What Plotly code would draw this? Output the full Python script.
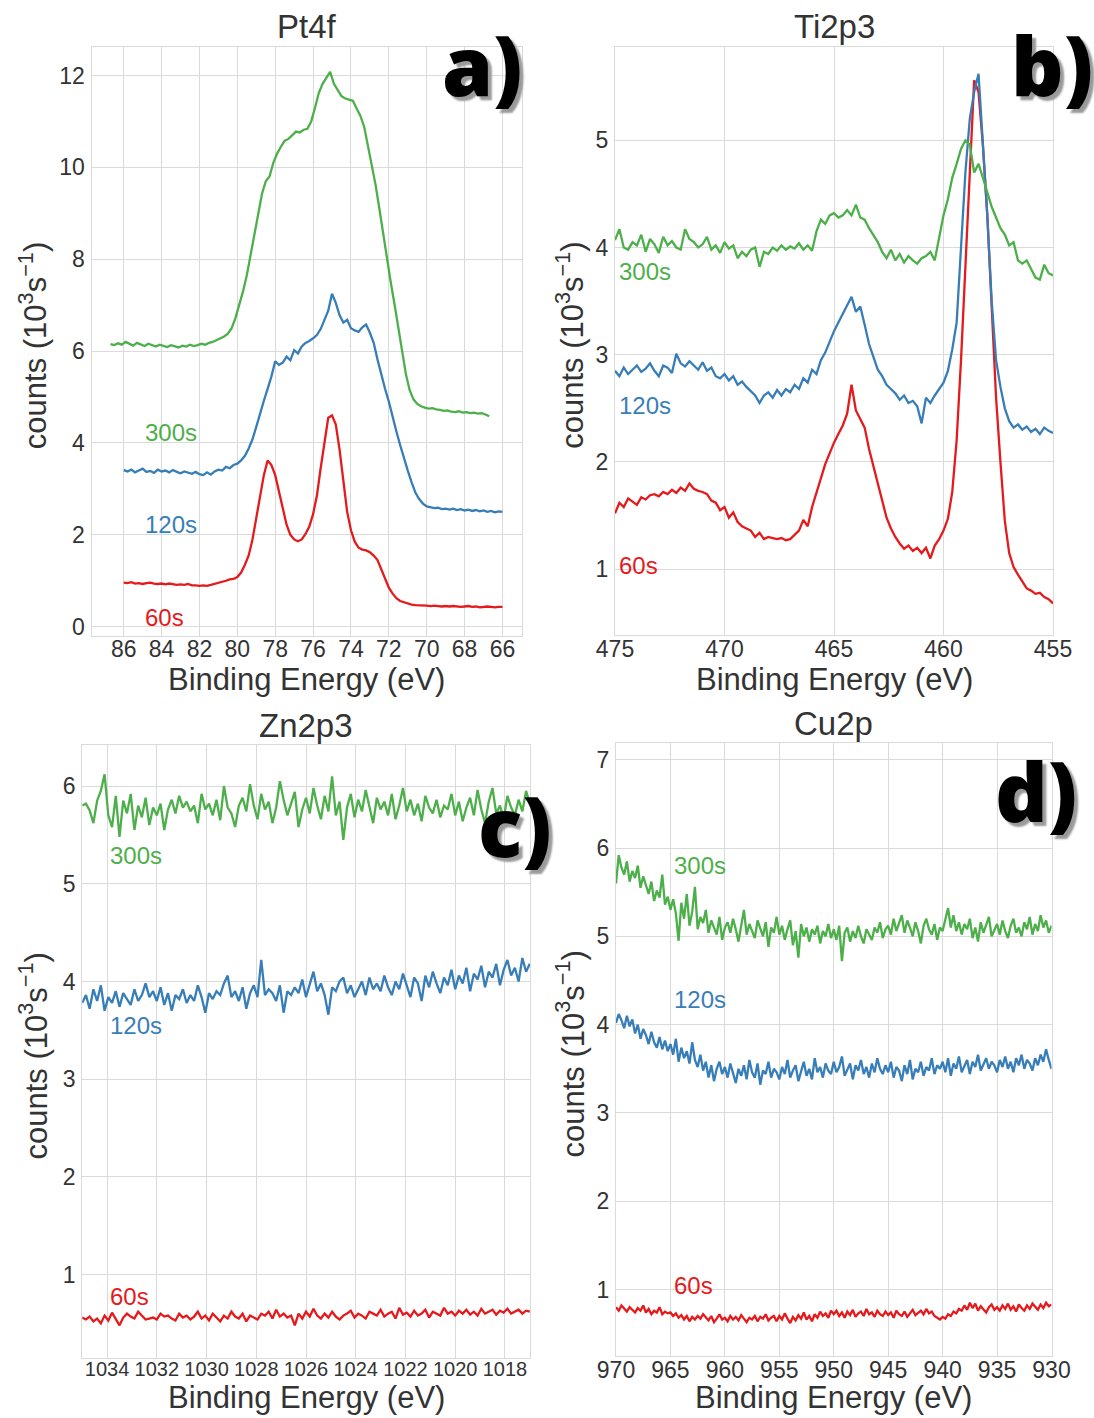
import numpy as np
import plotly.graph_objects as go

W, H = 1094, 1418
GREEN, BLUE, RED = "#4daf4a", "#377eb8", "#e41a1c"
FONT = "Liberation Sans, Arial, sans-serif"
TXT = "#333333"
GRID = "#dadada"

# ---------------- a) Pt4f ----------------
PT_E_60_120 = (86.0, 66.0)
PT_E_300 = (86.7, 66.7)
PT_60 = [0.96, 0.95, 0.97, 0.94, 0.95, 0.93, 0.95, 0.96, 0.94, 0.93, 0.94, 0.92, 0.94, 0.93, 0.91, 0.92, 0.91, 0.93, 0.90, 0.90, 0.89,
         0.90, 0.89, 0.91, 0.93, 0.95, 0.97, 1.00, 1.03, 1.04, 1.08,
         1.18, 1.35, 1.55, 1.90, 2.35, 2.85, 3.30, 3.62, 3.52, 3.30,
         2.95, 2.55, 2.22, 2.00, 1.90, 1.86, 1.90, 2.02, 2.18, 2.45,
         2.85, 3.45, 4.05, 4.55, 4.60, 4.40, 3.85, 3.10, 2.50, 2.10,
         1.85, 1.72, 1.68, 1.66, 1.62, 1.55, 1.45, 1.25, 1.05, 0.85,
         0.72, 0.62, 0.56, 0.53, 0.50, 0.48, 0.47, 0.47, 0.46, 0.46,
         0.45, 0.46, 0.45, 0.44, 0.45, 0.44, 0.45, 0.44, 0.43, 0.44, 0.45, 0.43, 0.44, 0.42, 0.43, 0.44, 0.43, 0.42, 0.43, 0.43]
PT_120 = [3.41, 3.38, 3.42, 3.36, 3.40, 3.44, 3.37, 3.39, 3.35, 3.42, 3.38, 3.40, 3.36, 3.41, 3.37, 3.34, 3.38, 3.35, 3.33, 3.37, 3.32,
          3.30, 3.36, 3.31, 3.38, 3.42, 3.40, 3.48, 3.45, 3.52, 3.55,
          3.62, 3.72, 3.88, 4.08, 4.35, 4.65, 4.92, 5.18, 5.45, 5.78,
          5.70, 5.75, 5.88, 5.80, 6.02, 5.95, 6.10, 6.18, 6.22, 6.28,
          6.35, 6.48, 6.70, 6.88, 7.25, 7.05, 6.78, 6.62, 6.68, 6.50,
          6.45, 6.42, 6.52, 6.58, 6.40, 6.18, 5.82, 5.48, 5.18, 4.90,
          4.55, 4.25, 3.95, 3.65, 3.40, 3.15, 2.92, 2.78, 2.68, 2.62,
          2.60, 2.58, 2.59, 2.56, 2.57, 2.55, 2.57, 2.54, 2.56, 2.53, 2.55, 2.52, 2.54, 2.51, 2.53, 2.50, 2.52, 2.49, 2.51, 2.50]
PT_300 = [6.15, 6.13, 6.17, 6.14, 6.20, 6.16, 6.12, 6.18, 6.14, 6.11, 6.16, 6.13, 6.10, 6.14, 6.12, 6.09, 6.13, 6.11, 6.08, 6.12,
          6.10, 6.14, 6.11, 6.13, 6.16, 6.14, 6.18, 6.20, 6.24, 6.28,
          6.32, 6.38, 6.50, 6.72, 7.00, 7.30, 7.65, 8.10, 8.55, 8.98,
          9.42, 9.70, 9.80, 10.10, 10.30, 10.45, 10.58, 10.62, 10.70, 10.78,
          10.76, 10.82, 10.84, 11.00, 11.30, 11.62, 11.82, 11.95, 12.08, 11.82,
          11.68, 11.55, 11.50, 11.48, 11.45, 11.28, 11.12, 10.88, 10.48, 10.05,
          9.62, 9.10, 8.55, 8.02, 7.50, 7.02, 6.52, 6.00, 5.50, 5.15,
          4.95, 4.85, 4.80, 4.77, 4.75, 4.76, 4.73, 4.72, 4.70, 4.71, 4.68, 4.67, 4.69, 4.66, 4.67, 4.65, 4.66, 4.64, 4.65, 4.62, 4.58]
PT_XTICKS = [86, 84, 82, 80, 78, 76, 74, 72, 70, 68, 66]
PT_YTICKS = [0, 2, 4, 6, 8, 10, 12]

# ---------------- b) Ti2p3 ----------------
TI_E = (475.0, 455.0)
TI_60 = [1.52, 1.62, 1.58, 1.66, 1.63, 1.60, 1.67, 1.65, 1.69, 1.70,
         1.68, 1.72, 1.70, 1.74, 1.71, 1.76, 1.73, 1.80, 1.75, 1.73,
         1.72, 1.70, 1.64, 1.62, 1.55, 1.58, 1.48, 1.53, 1.44, 1.40,
         1.38, 1.36, 1.30, 1.34, 1.28, 1.30, 1.29, 1.28, 1.29, 1.27,
         1.28, 1.32, 1.36, 1.46, 1.40, 1.58, 1.72, 1.84, 1.98, 2.08,
         2.18, 2.26, 2.34, 2.45, 2.72, 2.48, 2.40, 2.32, 2.12, 1.96,
         1.78, 1.62, 1.48, 1.38, 1.30, 1.24, 1.19, 1.22, 1.17, 1.20,
         1.15, 1.20, 1.10, 1.22, 1.28, 1.36, 1.47, 1.72, 2.20, 2.95,
         3.80, 4.68, 5.56, 5.45, 4.95, 4.30, 3.40, 2.60, 2.00, 1.45,
         1.15, 1.02, 0.95, 0.88, 0.82, 0.80, 0.77, 0.78, 0.74, 0.72, 0.68]
TI_120 = [2.85, 2.80, 2.88, 2.82, 2.86, 2.90, 2.84, 2.87, 2.92, 2.85,
          2.80, 2.90, 2.88, 2.83, 3.01, 2.92, 2.89, 2.94, 2.90, 2.86,
          2.93, 2.85, 2.88, 2.80, 2.78, 2.82, 2.76, 2.80, 2.72, 2.75,
          2.70, 2.66, 2.62, 2.55, 2.62, 2.65, 2.60, 2.67, 2.62, 2.68,
          2.65, 2.72, 2.68, 2.78, 2.74, 2.86, 2.82, 2.95, 3.02, 3.12,
          3.22, 3.30, 3.38, 3.46, 3.54, 3.40, 3.45, 3.28, 3.10, 2.98,
          2.86, 2.80, 2.72, 2.68, 2.64, 2.58, 2.62, 2.55, 2.57, 2.52,
          2.36, 2.60, 2.55, 2.62, 2.68, 2.74, 2.85, 3.05, 3.30, 3.95,
          4.70, 5.20, 5.45, 5.62, 4.95, 4.30, 3.50, 2.95, 2.70, 2.50,
          2.38, 2.32, 2.35, 2.30, 2.33, 2.28, 2.31, 2.26, 2.32, 2.29, 2.27]
TI_300 = [4.07, 4.17, 4.00, 3.98, 4.05, 4.02, 4.12, 3.96, 4.08, 4.03,
          3.95, 4.10, 4.02, 4.06, 4.00, 3.98, 4.17, 4.08, 4.05, 4.00,
          4.03, 4.10, 3.98, 4.02, 3.95, 4.05, 3.99, 4.02, 3.90, 3.96,
          3.92, 3.98, 4.00, 3.82, 3.96, 3.94, 4.00, 3.97, 4.02, 3.98,
          4.01, 3.99, 4.04, 3.98, 4.02, 3.97, 4.15, 4.26, 4.22, 4.30,
          4.32, 4.28, 4.30, 4.35, 4.30, 4.40, 4.28, 4.26, 4.18, 4.12,
          4.05, 3.96, 3.90, 3.98, 3.88, 3.94, 3.86, 3.92, 3.88, 3.85,
          3.90, 3.92, 3.96, 3.88, 4.10, 4.30, 4.45, 4.65, 4.78, 4.92,
          5.00, 4.96, 4.70, 4.78, 4.65, 4.52, 4.38, 4.28, 4.18, 4.12,
          4.02, 4.05, 3.88, 3.85, 3.88, 3.80, 3.72, 3.70, 3.84, 3.76, 3.74]
TI_XTICKS = [475, 470, 465, 460, 455]
TI_YTICKS = [1, 2, 3, 4, 5]

# ---------------- c) Zn2p3 ----------------
ZN_E = (1035.0, 1017.0)
ZN_60 = [0.56, 0.54, 0.57, 0.52, 0.55, 0.50, 0.58, 0.53, 0.61, 0.55, 0.48, 0.56, 0.60, 0.57, 0.55, 0.62, 0.58, 0.54, 0.55, 0.56,
         0.54, 0.60, 0.57, 0.58, 0.55, 0.53, 0.60, 0.56, 0.58, 0.54, 0.57, 0.62, 0.55, 0.58, 0.53, 0.60, 0.56, 0.52, 0.58, 0.55,
         0.62, 0.57, 0.55, 0.60, 0.52, 0.58, 0.56, 0.54, 0.60, 0.58, 0.62, 0.55, 0.64, 0.57, 0.60, 0.56, 0.58, 0.48, 0.60, 0.55,
         0.62, 0.57, 0.65, 0.58, 0.55, 0.60, 0.56, 0.62, 0.57, 0.54, 0.58, 0.60, 0.63, 0.56, 0.60, 0.58, 0.55, 0.62, 0.60, 0.58,
         0.64, 0.57, 0.60, 0.62, 0.55, 0.66, 0.59, 0.61, 0.57, 0.63, 0.58, 0.60, 0.64, 0.56, 0.62, 0.60, 0.58, 0.66, 0.60, 0.62,
         0.58, 0.63, 0.60, 0.64, 0.59, 0.62, 0.58, 0.65, 0.60, 0.62, 0.64, 0.59, 0.63, 0.61, 0.65, 0.60, 0.62, 0.64, 0.60, 0.63, 0.62]
ZN_120 = [3.78, 3.86, 3.72, 3.92, 3.80, 3.96, 3.70, 3.84, 3.78, 3.90, 3.74, 3.88, 3.82, 3.76, 3.92, 3.80, 3.86, 3.98, 3.84, 3.90,
          3.80, 3.94, 3.76, 3.88, 3.70, 3.86, 3.82, 3.92, 3.78, 3.86, 3.80, 3.96, 3.84, 3.68, 3.88, 3.82, 3.90, 3.86, 3.98, 4.06,
          3.84, 3.90, 3.80, 3.94, 3.72, 3.88, 3.96, 3.84, 4.22, 3.86, 3.92, 3.88, 3.80, 3.96, 3.68, 3.90, 3.86, 3.94, 3.88, 4.02,
          3.84, 3.96, 4.10, 3.90, 3.98, 3.86, 3.66, 3.94, 3.90, 4.00, 4.04, 3.88, 3.96, 3.84, 3.92, 4.00, 3.86, 4.04, 3.92, 3.98,
          3.90, 4.06, 3.94, 3.86, 4.00, 3.92, 4.08, 3.96, 3.84, 4.04, 3.98, 3.80, 4.06, 3.94, 4.10, 3.98, 3.88, 4.04, 3.96, 4.12,
          3.92, 4.06, 3.98, 4.14, 3.90, 4.08, 4.02, 4.16, 3.94, 4.10, 4.04, 4.18, 3.96, 4.12, 4.22, 4.06, 4.14, 4.00, 4.24, 4.10, 4.18]
ZN_300 = [5.80, 5.82, 5.75, 5.62, 5.85, 5.95, 6.12, 5.70, 5.58, 5.90, 5.48, 5.85, 5.72, 5.92, 5.55, 5.80, 5.68, 5.88, 5.60, 5.78,
          5.70, 5.82, 5.55, 5.76, 5.86, 5.72, 5.90, 5.78, 5.84, 5.74, 5.80, 5.62, 5.92, 5.76, 5.82, 5.70, 5.86, 5.65, 6.00, 5.78,
          5.72, 5.58, 5.80, 5.88, 5.74, 6.02, 5.80, 5.66, 5.92, 5.76, 5.84, 5.62, 5.78, 6.05, 5.86, 5.70, 5.82, 5.94, 5.58, 5.76,
          5.88, 5.72, 5.98, 5.80, 5.66, 5.90, 5.74, 6.10, 5.70, 5.84, 5.45, 5.78, 5.92, 5.68, 5.86, 5.74, 5.96, 5.80, 5.62, 5.88,
          5.76, 5.84, 5.70, 5.92, 5.66, 5.80, 5.98, 5.74, 5.86, 5.70, 5.82, 5.64, 5.90, 5.78, 5.72, 5.86, 5.68, 5.80, 5.76, 5.92,
          5.70, 5.84, 5.64, 5.78, 5.88, 5.70, 5.96, 5.76, 5.62, 5.84, 5.98, 5.72, 5.80, 5.66, 5.90, 5.78, 5.70, 5.86, 5.74, 5.95, 5.82]
ZN_XTICKS = [1034, 1032, 1030, 1028, 1026, 1024, 1022, 1020, 1018]
ZN_YTICKS = [1, 2, 3, 4, 5, 6]

# ---------------- d) Cu2p ----------------
CU_E = (970.0, 930.0)
CU_60 = [0.80, 0.76, 0.82, 0.78, 0.75, 0.80, 0.77, 0.74, 0.79, 0.76, 0.82, 0.74, 0.78, 0.72, 0.76, 0.74, 0.80, 0.72, 0.75, 0.73,
         0.74, 0.70, 0.73, 0.68, 0.71, 0.66, 0.70, 0.64, 0.69, 0.66, 0.70, 0.67, 0.72, 0.68, 0.65, 0.70, 0.63, 0.67, 0.72, 0.66,
         0.68, 0.64, 0.70, 0.66, 0.69, 0.65, 0.71, 0.67, 0.63, 0.68, 0.66, 0.70, 0.64, 0.69, 0.67, 0.72, 0.65, 0.68, 0.70, 0.64,
         0.70, 0.66, 0.73, 0.67, 0.62, 0.69, 0.65, 0.71, 0.67, 0.74, 0.66, 0.70, 0.64, 0.72, 0.68, 0.75, 0.70, 0.73, 0.68, 0.76,
         0.72, 0.76, 0.70, 0.74, 0.68, 0.75, 0.71, 0.77, 0.69, 0.73, 0.75, 0.70, 0.78, 0.72, 0.74, 0.69, 0.76, 0.72, 0.70, 0.75,
         0.71, 0.74, 0.68, 0.76, 0.72, 0.70, 0.75, 0.69, 0.73, 0.77, 0.71, 0.74, 0.76, 0.72, 0.78, 0.73, 0.75, 0.70, 0.68, 0.66,
         0.69, 0.67, 0.72, 0.70, 0.75, 0.73, 0.78, 0.76, 0.82, 0.77, 0.85, 0.79, 0.84, 0.76, 0.81, 0.78, 0.74, 0.80, 0.83, 0.77,
         0.80, 0.76, 0.82, 0.78, 0.84, 0.77, 0.81, 0.75, 0.83, 0.79, 0.76, 0.82, 0.78, 0.84, 0.80, 0.77, 0.83, 0.79, 0.85, 0.81, 0.83]
CU_120 = [4.02, 4.12, 4.05, 3.96, 4.10, 3.98, 4.06, 3.90, 4.00, 3.84, 3.95, 3.88, 3.78, 3.92, 3.80, 3.74, 3.86, 3.72, 3.82, 3.70,
          3.78, 3.66, 3.84, 3.58, 3.74, 3.62, 3.70, 3.56, 3.80, 3.60, 3.52, 3.66, 3.48, 3.58, 3.40, 3.54, 3.36, 3.50, 3.58, 3.44,
          3.52, 3.40, 3.56, 3.46, 3.34, 3.50, 3.42, 3.54, 3.38, 3.60, 3.46, 3.40, 3.56, 3.32, 3.48, 3.44, 3.58, 3.40, 3.50, 3.46,
          3.38, 3.52, 3.44, 3.60, 3.40, 3.48, 3.54, 3.36, 3.46, 3.58, 3.42, 3.50, 3.38, 3.62, 3.46, 3.52, 3.40, 3.56, 3.48, 3.44,
          3.58, 3.46, 3.52, 3.64, 3.42, 3.50, 3.56, 3.38, 3.54, 3.48, 3.60, 3.44, 3.52, 3.40, 3.56, 3.46, 3.62, 3.50, 3.44, 3.54,
          3.46, 3.58, 3.40, 3.52, 3.48, 3.36, 3.54, 3.44, 3.60, 3.38, 3.50, 3.46, 3.58, 3.42, 3.52, 3.48, 3.62, 3.44, 3.54, 3.50,
          3.58, 3.46, 3.62, 3.42, 3.56, 3.50, 3.64, 3.46, 3.54, 3.60, 3.44, 3.58, 3.52, 3.66, 3.48, 3.56, 3.62, 3.50, 3.58, 3.54,
          3.46, 3.60, 3.52, 3.64, 3.50, 3.58, 3.46, 3.62, 3.54, 3.66, 3.50, 3.60, 3.56, 3.48, 3.62, 3.54, 3.66, 3.58, 3.72, 3.60, 3.50]
CU_300 = [5.60, 5.92, 5.78, 5.70, 5.85, 5.62, 5.74, 5.66, 5.80, 5.55, 5.68, 5.58, 5.48, 5.62, 5.40, 5.52, 5.44, 5.70, 5.36, 5.45,
          5.30, 5.42, 5.26, 4.95, 5.38, 5.20, 5.48, 5.12, 5.28, 5.56, 5.08, 5.22, 5.15, 5.30, 5.04, 5.18, 5.10, 5.02, 5.22, 4.96,
          5.10, 5.16, 5.04, 5.20, 5.08, 4.94, 5.12, 5.30, 5.02, 5.14, 5.06, 4.98, 5.18, 5.08, 5.00, 5.16, 4.88, 5.10, 5.04, 5.22,
          5.02, 5.12, 4.96, 5.08, 5.18, 4.90, 5.06, 4.76, 5.14, 5.00, 5.10, 4.94, 5.08, 5.02, 5.12, 4.92, 5.06, 5.00, 5.14, 4.98,
          5.08, 4.96, 5.12, 4.72, 5.04, 5.10, 4.94, 5.06, 4.98, 5.12, 5.00, 4.92, 5.08, 5.02, 4.96, 5.10, 5.04, 5.16, 4.98, 5.08,
          5.12, 5.02, 5.20, 5.06, 5.14, 5.24, 5.04, 5.18, 5.10, 5.00, 5.16, 5.06, 4.92, 5.12, 5.20, 5.08, 5.02, 5.14, 4.96, 5.10,
          5.06, 5.18, 5.32, 5.10, 5.24, 5.06, 5.16, 5.02, 5.14, 5.08, 5.20, 4.98, 5.10, 4.94, 5.16, 5.04, 5.12, 5.22, 5.00, 5.08,
          5.14, 5.02, 5.18, 5.06, 4.98, 5.12, 5.20, 5.04, 5.10, 5.00, 5.16, 5.08, 5.22, 5.02, 5.14, 5.06, 5.24, 5.10, 5.18, 5.04, 5.12]
CU_XTICKS = [970, 965, 960, 955, 950, 945, 940, 935, 930]
CU_YTICKS = [1, 2, 3, 4, 5, 6, 7]

LABELS = ["60s", "120s", "300s"]
COLORS = [RED, BLUE, GREEN]


def px_dom(x0, x1, y0, y1):
    return [x0 / W, x1 / W], [1 - y1 / H, 1 - y0 / H]


panels = [
    dict(title="Pt4f", box=(91.5, 521.6, 46.6, 635.7), xr=[87.70, 64.99], yr=[-0.196, 12.63],
         xt=PT_XTICKS, yt=PT_YTICKS, xfs=23, xtitle_y=679,
         series=[(PT_E_60_120, PT_60), (PT_E_60_120, PT_120), (PT_E_300, PT_300)],
         lab_x=84.98, lab_y=[0.21, 2.23, 4.22], tag="a)", tag_xy=(482, 64)),
    dict(title="Ti2p3", box=(615, 1053, 46.6, 635.0), xr=[475, 455], yr=[0.386, 5.874],
         xt=TI_XTICKS, yt=TI_YTICKS, xfs=23, xtitle_y=679,
         series=[(TI_E, TI_60), (TI_E, TI_120), (TI_E, TI_300)],
         lab_x=474.92, lab_y=[1.03, 2.53, 3.78], tag="b)", tag_xy=(1052, 64)),
    dict(title="Zn2p3", box=(82.2, 530.3, 745, 1358), xr=[1035.0, 1016.98], yr=[0.146, 6.42],
         xt=ZN_XTICKS, yt=ZN_YTICKS, xfs=20, xtitle_y=1397,
         series=[(ZN_E, ZN_60), (ZN_E, ZN_120), (ZN_E, ZN_300)],
         lab_x=1033.96, lab_y=[0.78, 3.55, 5.29], tag="c)", tag_xy=(515, 825)),
    dict(title="Cu2p", box=(616, 1051.5, 743, 1356), xr=[970, 930], yr=[0.247, 7.19],
         xt=CU_XTICKS, yt=CU_YTICKS, xfs=23, xtitle_y=1397,
         series=[(CU_E, CU_60), (CU_E, CU_120), (CU_E, CU_300)],
         lab_x=964.85, lab_y=[1.04, 4.29, 5.80], tag="d)", tag_xy=(1036, 790)),
]

fig = go.Figure()
annotations = []
layout = dict(width=W, height=H, margin=dict(l=0, r=0, t=0, b=0, pad=0, autoexpand=False),
              showlegend=False, paper_bgcolor="white", plot_bgcolor="white")

for k, p in enumerate(panels):
    n = "" if k == 0 else str(k + 1)
    xa, ya = "x" + n, "y" + n
    xd, yd = px_dom(*p["box"])
    axis_common = dict(showgrid=True, gridcolor=GRID, gridwidth=1.2, zeroline=False,
                       showline=True, linecolor=GRID, linewidth=1.2, mirror=True,
                       ticks="", ticklen=0, automargin=False, color=TXT)
    layout["xaxis" + n] = dict(axis_common, domain=xd, range=p["xr"], anchor=ya,
                               tickvals=p["xt"], ticklabelstandoff=-7,
                               tickfont=dict(family=FONT, size=p["xfs"], color=TXT))
    layout["yaxis" + n] = dict(axis_common, domain=yd, range=p["yr"], anchor=xa,
                               tickvals=p["yt"], ticklabelstandoff=1,
                               tickfont=dict(family=FONT, size=23, color=TXT))
    for (erange, vals), col, lab, ly in zip(p["series"], COLORS, LABELS, p["lab_y"]):
        e = np.linspace(erange[0], erange[1], len(vals))
        fig.add_trace(go.Scatter(x=e, y=vals, mode="lines", xaxis=xa, yaxis=ya,
                                 line=dict(color=col, width=2.3), name=lab))
        annotations.append(dict(x=p["lab_x"], y=ly, xref=xa, yref=ya, text=lab, showarrow=False,
                                xanchor="left", yanchor="middle",
                                font=dict(family=FONT, size=24, color=col)))
    x0, x1, y0, y1 = p["box"]
    cx = (x0 + x1) / 2 / W
    annotations.append(dict(x=cx, y=1 - (y0 - 20) / H, xref="paper", yref="paper", text=p["title"],
                            showarrow=False, xanchor="center", yanchor="middle",
                            font=dict(family=FONT, size=33, color=TXT)))
    annotations.append(dict(x=cx, y=1 - p["xtitle_y"] / H, xref="paper", yref="paper",
                            text="Binding Energy (eV)", showarrow=False, xanchor="center", yanchor="middle",
                            font=dict(family=FONT, size=31, color=TXT)))
    ytx = 33 if k in (0, 2) else 570
    annotations.append(dict(x=ytx / W, y=1 - ((y0 + y1) / 2 + 5) / H, xref="paper", yref="paper",
                            text="counts (10<sup>3</sup>s<sup>\u22121</sup>)", textangle=-90,
                            showarrow=False, xanchor="center", yanchor="middle",
                            font=dict(family=FONT, size=31, color=TXT)))
    tx, ty = p["tag_xy"]
    annotations.append(dict(x=tx / W, y=1 - ty / H, xref="paper", yref="paper", text=p["tag"],
                            showarrow=False, xanchor="center", yanchor="middle",
                            font=dict(family="Open Sans", size=82, weight=800, color="black",
                                      shadow="4px 4px 2px #9a9a9a")))

layout["annotations"] = annotations
fig.update_layout(**layout)
fig.write_html("out.html")
